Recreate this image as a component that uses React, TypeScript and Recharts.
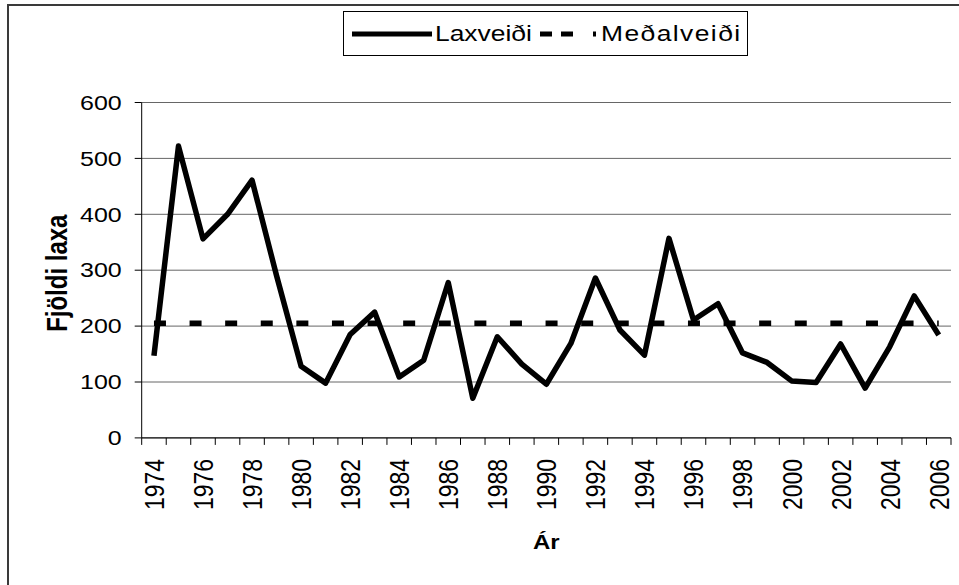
import React from 'react';
import { LineChart, Line, XAxis, YAxis, CartesianGrid, Legend } from 'recharts';

// --- Data ---

const years = [
  1974, 1975, 1976, 1977, 1978, 1979, 1980, 1981, 1982, 1983, 1984,
  1985, 1986, 1987, 1988, 1989, 1990, 1991, 1992, 1993, 1994, 1995,
  1996, 1997, 1998, 1999, 2000, 2001, 2002, 2003, 2004, 2005, 2006,
];

const laxveidi = [
  147, 522, 356, 400, 461, 290, 128, 98, 185, 225, 109,
  139, 278, 71, 181, 132, 96, 169, 286, 193, 148, 357,
  211, 240, 152, 135, 102, 99, 168, 89, 163, 254, 184,
];

const medalveidi = [
  205, 205, 205, 205, 205, 205, 205, 205, 205, 205, 205,
  205, 205, 205, 205, 205, 205, 205, 205, 205, 205, 205,
  205, 205, 205, 205, 205, 205, 205, 205, 205, 205, 205,
];

const yTicks = [0, 100, 200, 300, 400, 500, 600];

const yearLabels = [
  1974, 1976, 1978, 1980, 1982, 1984, 1986, 1988, 1990,
  1992, 1994, 1996, 1998, 2000, 2002, 2004, 2006,
];

const data = years.map((ar, i) => ({
  ar,
  laxveidi: laxveidi[i],
  medalveidi: medalveidi[i],
}));

// tick marks sit between the years, labels on every other year
const xTicks = [...years.map((y) => y - 0.5), years[years.length - 1] + 0.5, ...yearLabels].sort(
  (a, b) => a - b
);

const FONT = '"Liberation Sans", Arial, sans-serif';
const STRETCH = 1.2; // the text in the original is wider than plain Arial

// --- Axis pieces ---

const XTick = ({ x, y, payload }: any) => {
  const v = payload.value;
  if (!Number.isInteger(v)) {
    return <line x1={x} x2={x} y1={y} y2={y + 7} stroke="#000" strokeWidth={1} />;
  }
  return (
    <text
      transform={`translate(${x},${y + 21}) rotate(-90) scale(1,${STRETCH})`}
      textAnchor="end"
      dy="0.36em"
      fontSize={23}
      fontFamily={FONT}
      fill="#000"
    >
      {v}
    </text>
  );
};

const YTick = ({ x, y, payload }: any) => (
  <text
    transform={`translate(${x},${y}) scale(1.25,1)`}
    textAnchor="end"
    dy="0.36em"
    fontSize={20}
    fontFamily={FONT}
    fill="#000"
  >
    {payload.value}
  </text>
);

const YTitle = ({ viewBox }: any) => {
  const cy = viewBox.y + viewBox.height / 2 + 3;
  return (
    <text
      transform={`translate(${viewBox.x + 45},${cy}) rotate(-90) scale(1,${STRETCH})`}
      textAnchor="middle"
      dy="0.36em"
      fontSize={24}
      fontWeight="bold"
      fontFamily={FONT}
      fill="#000"
    >
      Fjöldi laxa
    </text>
  );
};

const XTitle = ({ viewBox }: any) => (
  <text
    transform={`translate(${viewBox.x + viewBox.width / 2},${viewBox.y + 111}) scale(${STRETCH},1)`}
    textAnchor="middle"
    fontSize={20}
    fontWeight="bold"
    fontFamily={FONT}
    fill="#000"
  >
    Ár
  </text>
);

const LegendBox = ({ payload }: any) => (
  <div
    style={{
      boxSizing: 'border-box',
      width: 405,
      height: 45,
      border: '1px solid #000',
      background: '#fff',
      display: 'flex',
      alignItems: 'center',
      paddingLeft: 8,
      fontFamily: FONT,
      fontSize: 22,
      color: '#000',
    }}
  >
    {(payload || []).map((entry: any, i: number) => {
      const dashed = !!entry.payload?.strokeDasharray;
      return (
        <div key={i} style={{ display: 'flex', alignItems: 'center' }}>
          <svg width={dashed ? 56 : 80} height={10} style={{ marginLeft: i ? 9 : 0, marginRight: dashed ? 5 : 3 }}>
            <line
              x1={0}
              x2={dashed ? 56 : 80}
              y1={5}
              y2={5}
              stroke="#000"
              strokeWidth={5}
              strokeLinecap={dashed ? 'butt' : 'round'}
              strokeDasharray={dashed ? '12 9 12 20 3' : undefined}
            />
          </svg>
          <span
            style={{
              display: 'inline-block',
              width: dashed ? 146 : 96,
              letterSpacing: dashed ? 1.2 : 0,
              transform: `scaleX(${STRETCH})`,
              transformOrigin: '0 50%',
            }}
          >
            {entry.value}
          </span>
        </div>
      );
    })}
  </div>
);

export default function App() {
  return (
    <div
      style={{
        position: 'fixed',
        left: 0,
        top: 0,
        width: 959,
        height: 585,
        background: '#fff',
        overflow: 'hidden',
      }}
    >
      <div
        style={{
          position: 'absolute',
          left: 7,
          top: 4,
          width: 1000,
          height: 700,
          border: '2px solid #3a3a3a',
        }}
      />
      <div style={{ position: 'absolute', left: 0, top: 0 }}>
        <LineChart
          width={959}
          height={585}
          data={data}
          margin={{ top: 102.5, right: 8, left: 11.7, bottom: 27.1 }}
        >
          <CartesianGrid vertical={false} stroke="#666" />
          <XAxis
            dataKey="ar"
            type="number"
            domain={[1973.5, 2006.5]}
            ticks={xTicks}
            interval={0}
            tickSize={0}
            tickMargin={0}
            tickLine={false}
            axisLine={{ stroke: '#000' }}
            tick={<XTick />}
            height={120}
            label={<XTitle />}
          />
          <YAxis
            domain={[0, 600]}
            ticks={yTicks}
            interval={0}
            width={130}
            tickSize={7}
            tickMargin={13}
            tickLine={{ stroke: '#000' }}
            axisLine={{ stroke: '#000' }}
            tick={<YTick />}
            label={<YTitle />}
          />
          <YAxis
            yAxisId="right"
            orientation="right"
            domain={[0, 600]}
            width={0}
            tick={false}
            tickLine={false}
            axisLine={{ stroke: '#808080' }}
          />
          <Legend
            layout="horizontal"
            verticalAlign="middle"
            align="center"
            wrapperStyle={{ top: 11, left: 343, width: 405, height: 45 }}
            content={<LegendBox />}
          />
          <Line
            dataKey="laxveidi"
            name="Laxveiði"
            stroke="#000"
            strokeWidth={5.5}
            strokeLinejoin="round"
            dot={false}
            activeDot={false}
            isAnimationActive={false}
          />
          <Line
            dataKey="medalveidi"
            name="Meðalveiði"
            yAxisId="right"
            stroke="#000"
            strokeWidth={5.5}
            strokeDasharray="12 23.6"
            dot={false}
            activeDot={false}
            isAnimationActive={false}
          />
        </LineChart>
      </div>
    </div>
  );
}
